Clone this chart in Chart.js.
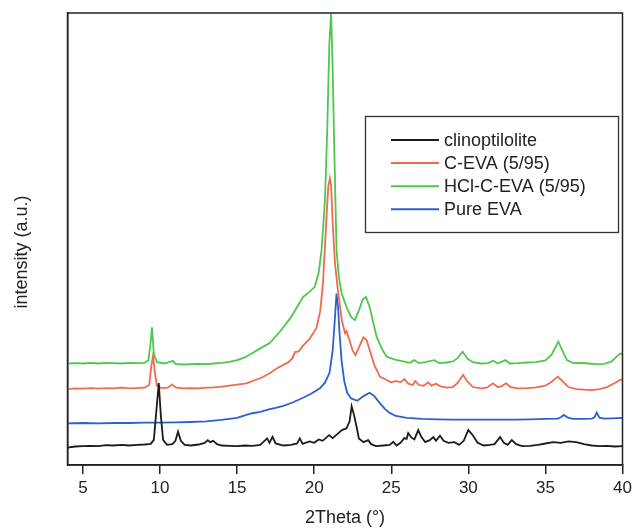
<!DOCTYPE html>
<html>
<head>
<meta charset="utf-8">
<script src="https://cdn.jsdelivr.net/npm/chart.js@4.4.0/dist/chart.umd.min.js"></script>
<style>
html,body{margin:0;padding:0;background:#fff;}
#wrap{width:633px;height:530px;}
</style>
</head>
<body>
<div id="wrap"><canvas id="c" width="633" height="530"></canvas></div>
<script>
// ---- data (2Theta in degrees, intensity in arbitrary units) ----
const seriesNames = ["clinoptilolite", "C-EVA (5/95)", "HCl-C-EVA (5/95)", "Pure EVA"];
const xTicks = [5, 10, 15, 20, 25, 30, 35, 40];

const clinoX = [4.0,4.5,5.0,5.5,6.0,6.5,7.0,7.5,8.0,8.5,9.0,9.4,9.6,9.78,9.92,10.05,10.2,10.45,10.8,11.0,11.17,11.35,11.6,12.0,12.5,12.9,13.1,13.25,13.45,13.7,14.0,14.5,15.0,15.5,16.0,16.5,16.95,17.1,17.3,17.5,18.0,18.5,18.9,19.07,19.25,19.7,20.0,20.3,20.55,20.97,21.2,21.5,21.8,22.1,22.3,22.43,22.58,22.75,22.9,23.2,23.5,23.7,24.0,24.5,24.9,25.13,25.35,25.6,25.85,26.0,26.1,26.3,26.5,26.75,26.95,27.2,27.5,27.73,27.9,28.16,28.4,28.7,29.1,29.4,29.7,30.0,30.3,30.6,31.0,31.4,31.7,32.06,32.3,32.55,32.82,33.1,33.5,34.0,34.5,35.0,35.5,36.0,36.5,37.0,37.5,38.0,38.5,39.0,39.5,40.0];
const clinoY = [52,55,56,57,56,59,58,60,58,60,61,63,75,170,244,150,75,60,62,72,99,72,60,58,61,66,74,68,72,62,58,57,56,58,57,60,79,66,84,64,58,60,64,79,63,70,66,76,72,89,80,92,104,109,130,175,150,114,79,68,74,62,56,58,60,69,58,66,80,78,95,82,76,104,84,68,74,83,72,87,72,66,68,60,72,104,88,66,58,60,62,83,66,60,74,62,56,57,60,64,68,66,70,68,62,58,56,57,55,56];

const cevaX = [4.0,4.5,5.0,5.5,6.0,6.5,7.0,7.5,8.0,8.5,9.0,9.3,9.42,9.55,9.65,9.8,10.1,10.5,10.8,11.0,11.5,12.0,12.5,13.0,13.5,14.0,14.5,15.0,15.6,16.0,16.5,17.12,17.6,18.0,18.3,18.6,18.75,19.0,19.28,19.7,20.15,20.4,20.57,20.7,20.8,20.92,21.02,21.1,21.2,21.35,21.56,21.8,22.0,22.1,22.3,22.5,22.68,22.9,23.2,23.4,23.6,23.9,24.26,24.7,25.0,25.3,25.6,25.85,26.1,26.4,26.55,26.8,27.1,27.4,27.6,27.9,28.2,28.6,29.0,29.3,29.66,29.95,30.3,30.8,31.2,31.6,31.9,32.15,32.45,32.75,33.2,33.8,34.4,35.0,35.4,35.8,36.1,36.5,37.0,37.5,38.0,38.5,39.0,39.5,39.85,40.0];
const cevaY = [226,228,227,229,227,229,228,230,228,229,230,238,290,325,280,236,229,230,240,231,228,229,228,230,231,233,236,239,243,250,258,273,288,298,305,318,336,338,355,375,408,460,541,650,738,830,853,830,720,600,511,430,392,398,370,340,327,350,380,372,342,298,263,253,246,250,246,256,242,238,250,238,236,246,236,242,234,230,232,244,268,248,232,228,230,243,232,234,243,232,228,229,231,236,248,263,250,232,226,224,223,226,232,244,253,254];

const hclX = [4.0,4.5,5.0,5.5,6.0,6.5,7.0,7.5,8.0,8.5,9.0,9.25,9.38,9.48,9.6,9.8,10.3,10.84,11.0,11.5,12.0,12.5,13.0,13.5,14.0,14.5,15.0,15.5,16.0,16.5,17.12,17.8,18.5,19.28,19.7,20.04,20.3,20.48,20.7,20.85,20.98,21.1,21.2,21.3,21.45,21.6,21.78,22.1,22.4,22.64,22.9,23.15,23.36,23.6,23.8,24.05,24.4,24.7,25.3,25.8,26.2,26.5,26.8,27.2,27.8,28.1,28.6,29.0,29.3,29.63,29.95,30.3,30.8,31.3,31.6,31.9,32.4,32.7,33.2,33.8,34.4,35.0,35.4,35.84,36.1,36.4,36.8,37.3,37.8,38.3,38.8,39.3,39.6,39.85,40.0];
const hclY = [302,303,302,304,302,304,303,302,304,303,304,312,360,410,330,306,302,310,301,299,300,301,300,302,304,307,312,320,333,347,363,398,440,500,515,530,575,640,788,1000,1250,1344,1180,950,640,560,511,470,440,431,460,492,500,470,430,382,345,322,313,308,304,312,303,306,312,303,305,308,318,337,316,306,302,303,310,302,312,302,303,305,306,311,328,367,340,312,303,304,302,300,301,308,322,332,330];

const evaX = [4.0,5.0,6.0,7.0,8.0,9.0,10.0,11.0,12.0,13.0,14.0,15.0,15.6,16.0,16.5,17.12,17.5,18.0,18.6,19.28,19.8,20.37,20.7,21.0,21.2,21.35,21.45,21.55,21.65,21.78,21.95,22.14,22.4,22.8,23.2,23.6,23.9,24.26,24.6,24.9,25.3,26.0,27.0,28.0,29.0,30.0,31.0,32.0,33.0,34.0,35.0,35.8,36.0,36.2,36.45,36.8,37.5,38.0,38.18,38.33,38.5,38.8,39.3,40.0];
const evaY = [124,125,124,125,125,126,126,127,128,130,134,140,149,154,158,166,170,176,186,200,212,228,245,275,340,440,510,470,390,310,250,215,198,191,205,215,205,184,166,155,146,140,137,136,135,135,135,135,135,136,137,138,142,149,141,137,137,138,142,156,141,138,139,140];

const colors = ["#1c1c1c", "#f06a4e", "#4dc84a", "#2f5fcf"];

function pts(xs, ys) { return xs.map((x, i) => ({x: x, y: ys[i]})); }

const datasets = [
  {label: seriesNames[0], data: pts(clinoX, clinoY), borderColor: colors[0]},
  {label: seriesNames[1], data: pts(cevaX, cevaY), borderColor: colors[1]},
  {label: seriesNames[2], data: pts(hclX, hclY), borderColor: colors[2]},
  {label: seriesNames[3], data: pts(evaX, evaY), borderColor: colors[3]}
].map(d => Object.assign(d, {borderWidth: 1.8, pointRadius: 0, tension: 0, fill: false}));

const FONT = "'Liberation Sans', Arial, sans-serif";

const framePlugin = {
  id: 'frame',
  beforeDraw(chart) {
    const ctx = chart.ctx;
    ctx.save();
    ctx.fillStyle = '#fff';
    ctx.fillRect(0, 0, chart.width, chart.height);
    ctx.restore();
  },
  afterDraw(chart) {
    const ctx = chart.ctx;
    const a = chart.chartArea;
    ctx.save();
    ctx.strokeStyle = '#222';
    ctx.lineWidth = 1.5;
    ctx.strokeRect(a.left, a.top, a.right - a.left, a.bottom - a.top);
    ctx.fillStyle = '#222';
    ctx.font = "18px " + FONT;
    ctx.textAlign = 'center';
    ctx.textBaseline = 'middle';
    ctx.translate(22, 252);
    ctx.rotate(-Math.PI / 2);
    ctx.fillText('intensity (a.u.)', 0, 0);
    ctx.restore();

    ctx.save();
    ctx.strokeStyle = '#333';
    ctx.lineWidth = 1.3;
    ctx.strokeRect(365.5, 116.5, 253, 116);
    ctx.font = "18px " + FONT;
    ctx.textAlign = 'left';
    ctx.textBaseline = 'middle';
    chart.data.datasets.forEach((ds, i) => {
      const y = 140 + i * 23.1;
      ctx.strokeStyle = ds.borderColor;
      ctx.lineWidth = 2;
      ctx.beginPath();
      ctx.moveTo(391, y);
      ctx.lineTo(439, y);
      ctx.stroke();
      ctx.fillStyle = '#222';
      ctx.fillText(ds.label, 444, y + 1);
    });
    ctx.restore();
  }
};

new Chart(document.getElementById('c'), {
  type: 'line',
  data: {datasets: datasets},
  options: {
    responsive: false,
    animation: false,
    layout: {padding: {left: 0, right: 10.5, top: 13, bottom: 0}},
    plugins: {legend: {display: false}, tooltip: {enabled: false}},
    scales: {
      x: {
        type: 'linear',
        min: 4, max: 40,
        afterBuildTicks: (s) => { s.ticks = xTicks.map(v => ({value: v})); },
        afterFit: (s) => { s.height = 65; s.paddingLeft = 0; s.paddingRight = 0; },
        grid: {display: true, drawOnChartArea: false, drawTicks: true, tickLength: 9, color: '#222', lineWidth: 1.5},
        border: {display: true, color: '#222', width: 1.5},
        ticks: {color: '#222', font: {family: FONT, size: 17}, padding: 4, maxRotation: 0},
        title: {display: true, text: '2Theta (°)', color: '#222', font: {family: FONT, size: 18}, padding: {top: 0, bottom: 1}}
      },
      y: {
        type: 'linear',
        min: 0, max: 1345,
        afterFit: (s) => { s.width = 67.5; s.paddingTop = 0; s.paddingBottom = 0; },
        grid: {display: false},
        border: {display: true, color: '#222', width: 1.5},
        ticks: {display: false}
      }
    }
  },
  plugins: [framePlugin]
});
</script>
</body>
</html>
